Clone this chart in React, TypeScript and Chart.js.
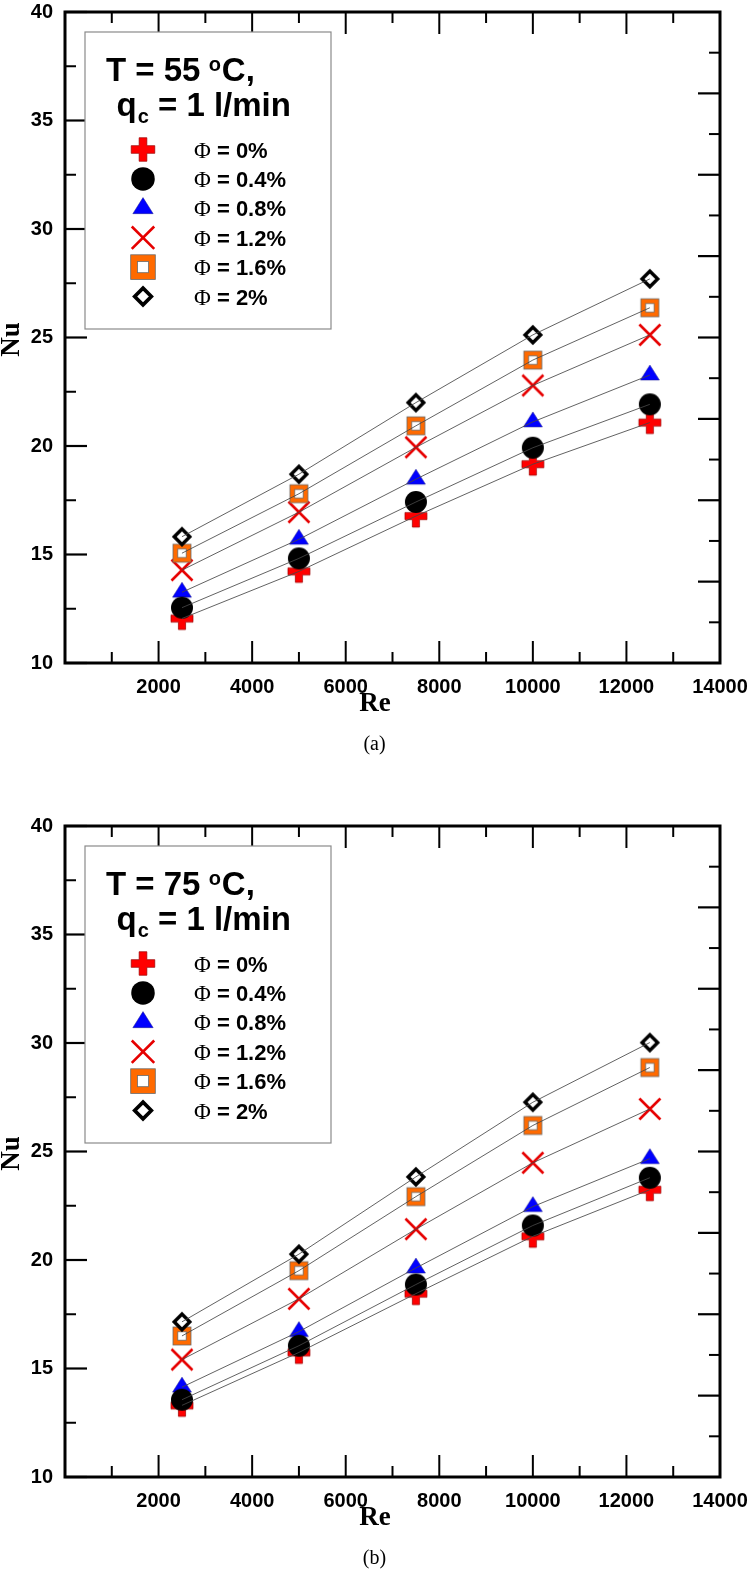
import React, { useEffect, useRef } from 'react';
import { Chart, registerables } from 'chart.js';

Chart.register(...registerables);

// ---------- data ----------
const reValues = [2500, 5000, 7500, 10000, 12500];

// (a) T = 55 °C, qc = 1 l/min
const nuA_phi0 = [12.05, 14.22, 16.77, 19.16, 21.08];
const nuA_phi04 = [12.55, 14.82, 17.42, 19.92, 21.92];
const nuA_phi08 = [13.26, 15.7, 18.47, 21.11, 23.27];
const nuA_phi12 = [14.28, 16.95, 19.94, 22.79, 25.12];
const nuA_phi16 = [15.06, 17.8, 20.93, 23.96, 26.37];
const nuA_phi20 = [15.82, 18.7, 22.0, 25.12, 27.7];

// (b) T = 75 °C, qc = 1 l/min
const nuB_phi0 = [13.3, 15.74, 18.45, 21.09, 23.24];
const nuB_phi04 = [13.56, 16.05, 18.87, 21.59, 23.79];
const nuB_phi08 = [14.14, 16.7, 19.63, 22.46, 24.67];
const nuB_phi12 = [15.41, 18.21, 21.42, 24.48, 26.96];
const nuB_phi16 = [16.5, 19.51, 22.92, 26.2, 28.87];
const nuB_phi20 = [17.15, 20.27, 23.83, 27.27, 30.02];

const phiLabels = ['0%', '0.4%', '0.8%', '1.2%', '1.6%', '2%'];
const panelTemps = ['55', '75'];
const panelCaptions = ['(a)', '(b)'];

const xTickLabels = [2000, 4000, 6000, 8000, 10000, 12000, 14000];
const xMinorTicks = [1000, 3000, 5000, 7000, 9000, 11000, 13000];
const yTickLabels = [10, 15, 20, 25, 30, 35, 40];
const yMinorTicks = [12.5, 17.5, 22.5, 27.5, 32.5, 37.5];
const rightMajorTicks = [13.75, 17.5, 21.25, 25, 28.75, 32.5, 36.25];
const rightMinorTicks = [11.875, 15.625, 19.375, 23.125, 26.875, 30.625, 34.375, 38.125];

// ---------- styling ----------
const SANS = '"Liberation Sans", Arial, Helvetica, sans-serif';
const SERIF = '"Liberation Serif", "Times New Roman", Times, serif';
const markerKinds = ['plus', 'circle', 'triangle', 'cross', 'square', 'diamond'];
const markerOrder = [7, 5, 6, 4, 3, 2];

function drawMarker(ctx: CanvasRenderingContext2D, kind: string, x: number, y: number, s: number, legend: boolean) {
  ctx.save();
  ctx.lineJoin = 'miter';
  switch (kind) {
    case 'plus': {
      const h = 11 * s, t = 3.6 * s;
      ctx.beginPath();
      ctx.moveTo(x - t, y - h); ctx.lineTo(x + t, y - h); ctx.lineTo(x + t, y - t);
      ctx.lineTo(x + h, y - t); ctx.lineTo(x + h, y + t); ctx.lineTo(x + t, y + t);
      ctx.lineTo(x + t, y + h); ctx.lineTo(x - t, y + h); ctx.lineTo(x - t, y + t);
      ctx.lineTo(x - h, y + t); ctx.lineTo(x - h, y - t); ctx.lineTo(x - t, y - t);
      ctx.closePath();
      ctx.fillStyle = '#ff0000'; ctx.fill();
      ctx.strokeStyle = '#9a0000'; ctx.lineWidth = 0.7; ctx.stroke();
      break;
    }
    case 'circle': {
      ctx.beginPath(); ctx.arc(x, y, 11 * s, 0, Math.PI * 2);
      ctx.fillStyle = '#000'; ctx.fill();
      break;
    }
    case 'triangle': {
      ctx.beginPath();
      ctx.moveTo(x, y - 10 * s); ctx.lineTo(x + 9.5 * s, y + 5 * s); ctx.lineTo(x - 9.5 * s, y + 5 * s);
      ctx.closePath();
      ctx.fillStyle = '#0000ff'; ctx.fill();
      ctx.strokeStyle = '#1a1a8a'; ctx.lineWidth = 0.5; ctx.stroke();
      break;
    }
    case 'cross': {
      const h = 10.5 * s;
      ctx.beginPath();
      ctx.moveTo(x - h, y - h); ctx.lineTo(x + h, y + h);
      ctx.moveTo(x + h, y - h); ctx.lineTo(x - h, y + h);
      ctx.strokeStyle = '#e60000'; ctx.lineWidth = 2.6; ctx.stroke();
      break;
    }
    case 'square': {
      const o = legend ? 12.3 : 9, i = legend ? 5.6 : 4.2;
      ctx.fillStyle = '#ff6a00'; ctx.fillRect(x - o, y - o, 2 * o, 2 * o);
      ctx.strokeStyle = '#6a6a6a'; ctx.lineWidth = 0.8; ctx.strokeRect(x - o, y - o, 2 * o, 2 * o);
      ctx.fillStyle = '#fff'; ctx.fillRect(x - i, y - i, 2 * i, 2 * i);
      ctx.strokeRect(x - i, y - i, 2 * i, 2 * i);
      break;
    }
    case 'diamond': {
      const h = 7.8 * s;
      ctx.beginPath();
      ctx.moveTo(x, y - h); ctx.lineTo(x + h, y); ctx.lineTo(x, y + h); ctx.lineTo(x - h, y);
      ctx.closePath();
      ctx.fillStyle = '#fff'; ctx.fill();
      ctx.strokeStyle = '#000'; ctx.lineWidth = 3.4 * s; ctx.stroke();
      break;
    }
  }
  ctx.restore();
}

function makeMarkerCanvas(kind: string): HTMLCanvasElement {
  const c = document.createElement('canvas');
  c.width = 40; c.height = 40;
  const ctx = c.getContext('2d')!;
  drawMarker(ctx, kind, 20, 20, 1, false);
  return c;
}

type Panel = {
  index: number;
  series: number[][];
  canvasTop: number;
  plotTop: number;
  plotBottom: number;
  captionY: number;
};

const CANVAS_W = 749;
const CANVAS_H = 760;

const panels: Panel[] = [
  { index: 0, series: [nuA_phi0, nuA_phi04, nuA_phi08, nuA_phi12, nuA_phi16, nuA_phi20], canvasTop: 0, plotTop: 7, plotBottom: 663, captionY: 743 },
  { index: 1, series: [nuB_phi0, nuB_phi04, nuB_phi08, nuB_phi12, nuB_phi16, nuB_phi20], canvasTop: 814, plotTop: 8, plotBottom: 663, captionY: 1557 },
];

function decorPlugin(panel: Panel) {
  return {
    id: 'decor' + panel.index,
    afterDraw(chart: any) {
      const ctx: CanvasRenderingContext2D = chart.ctx;
      const xs = chart.scales.x;
      const ys = chart.scales.y;
      const { left, right, top, bottom } = chart.chartArea;
      ctx.save();
      ctx.strokeStyle = '#000';
      ctx.lineCap = 'butt';
      const seg = (x1: number, y1: number, x2: number, y2: number, w: number) => {
        ctx.lineWidth = w;
        ctx.beginPath(); ctx.moveTo(x1, y1); ctx.lineTo(x2, y2); ctx.stroke();
      };
      const MAJ = 22, MIN = 11;
      xTickLabels.forEach((v) => {
        const p = xs.getPixelForValue(v);
        seg(p, bottom, p, bottom - MAJ, 2); seg(p, top, p, top + MAJ, 2);
      });
      xMinorTicks.forEach((v) => {
        const p = xs.getPixelForValue(v);
        seg(p, bottom, p, bottom - MIN, 2); seg(p, top, p, top + MIN, 2);
      });
      yTickLabels.forEach((v) => {
        const p = ys.getPixelForValue(v);
        seg(left, p, left + MAJ, p, 2.2);
      });
      yMinorTicks.forEach((v) => {
        const p = ys.getPixelForValue(v);
        seg(left, p, left + MIN, p, 2);
      });
      rightMajorTicks.forEach((v) => {
        const p = ys.getPixelForValue(v);
        seg(right, p, right - MAJ, p, 2.2);
      });
      rightMinorTicks.forEach((v) => {
        const p = ys.getPixelForValue(v);
        seg(right, p, right - MIN, p, 2);
      });
      // frame
      ctx.lineWidth = 3;
      ctx.strokeRect(left, top, right - left, bottom - top);

      // axis titles
      ctx.fillStyle = '#000';
      ctx.textAlign = 'center';
      ctx.textBaseline = 'middle';
      ctx.font = `bold 27px ${SERIF}`;
      ctx.fillText('Re', 375, bottom + 41);
      ctx.save();
      ctx.translate(12, (top + bottom) / 2 + 2);
      ctx.rotate(-Math.PI / 2);
      ctx.fillText('Nu', 0, 0);
      ctx.restore();

      // legend box
      const bx = 85, by = 32, bw = 246, bh = 297;
      ctx.fillStyle = '#fff';
      ctx.fillRect(bx, by, bw, bh);
      ctx.strokeStyle = '#8a8a8a';
      ctx.lineWidth = 1.2;
      ctx.strokeRect(bx, by, bw, bh);

      ctx.fillStyle = '#000';
      ctx.textAlign = 'left';
      ctx.textBaseline = 'alphabetic';
      const temp = panelTemps[panel.index];
      let x = bx + 21;
      const y1 = by + 49;
      ctx.font = `bold 33px ${SANS}`;
      const t1 = `T = ${temp} `;
      ctx.fillText(t1, x, y1);
      x += ctx.measureText(t1).width - 1;
      ctx.font = `bold 20px ${SANS}`;
      ctx.fillText('o', x, y1 - 10);
      x += ctx.measureText('o').width + 1;
      ctx.font = `bold 33px ${SANS}`;
      ctx.fillText('C,', x, y1);

      x = bx + 31.5;
      const y2 = by + 84;
      ctx.fillText('q', x, y2);
      x += ctx.measureText('q').width + 1;
      ctx.font = `bold 20px ${SANS}`;
      ctx.fillText('c', x, y2 + 7);
      x += ctx.measureText('c').width;
      ctx.font = `bold 33px ${SANS}`;
      ctx.fillText(' = 1 l/min', x, y2);

      markerKinds.forEach((kind, i) => {
        const ry = by + 117.5 + i * 29.4;
        drawMarker(ctx, kind, bx + 58, ry, 1.07, true);
        ctx.fillStyle = '#000';
        ctx.font = `23px ${SERIF}`;
        ctx.fillText('Φ', bx + 109, ry + 8);
        const w = ctx.measureText('Φ').width;
        ctx.font = `bold 22px ${SANS}`;
        ctx.fillText(` = ${phiLabels[i]}`, bx + 109 + w, ry + 8);
      });
      ctx.restore();
    },
  };
}

function PanelChart({ panel }: { panel: Panel }) {
  const ref = useRef<HTMLCanvasElement>(null);
  useEffect(() => {
    const markerCanvases = markerKinds.map((k) => makeMarkerCanvas(k));
    const datasets: any[] = [];
    panel.series.forEach((vals, i) => {
      const pts = reValues.map((re, j) => ({ x: re, y: vals[j] }));
      datasets.push({
        label: 'Φ = ' + phiLabels[i],
        data: pts,
        showLine: false,
        pointStyle: markerCanvases[i],
        pointRadius: 11,
        pointHoverRadius: 11,
        order: markerOrder[i],
      });
      datasets.push({
        label: 'fit ' + phiLabels[i],
        data: pts,
        showLine: true,
        pointRadius: 0,
        pointHoverRadius: 0,
        borderColor: 'rgba(70,70,70,0.95)',
        borderWidth: 0.9,
        fill: false,
        tension: 0,
        order: 0,
      });
    });
    const xAxisH = CANVAS_H - panel.plotBottom;
    const chart = new Chart(ref.current!, {
      type: 'line',
      data: { datasets },
      options: {
        responsive: false,
        animation: false,
        devicePixelRatio: 1,
        events: [],
        layout: { padding: { left: 0, right: CANVAS_W - 720, top: panel.plotTop, bottom: 0 } },
        plugins: { legend: { display: false }, tooltip: { enabled: false }, title: { display: false } },
        scales: {
          x: {
            type: 'linear',
            position: 'bottom',
            min: 0,
            max: 14000,
            grid: { display: false, drawTicks: false },
            border: { display: false },
            afterBuildTicks: (s: any) => { s.ticks = xTickLabels.map((v) => ({ value: v })); },
            ticks: {
              autoSkip: false,
              maxRotation: 0,
              minRotation: 0,
              padding: 12,
              color: '#000',
              font: { family: SANS, size: 20, weight: 'bold' },
              callback: (v: any) => String(v),
            },
            afterFit: (s: any) => { s.height = xAxisH; s.paddingLeft = 0; s.paddingRight = 0; },
          },
          y: {
            type: 'linear',
            position: 'left',
            min: 10,
            max: 40,
            grid: { display: false, drawTicks: false },
            border: { display: false },
            afterBuildTicks: (s: any) => { s.ticks = yTickLabels.map((v) => ({ value: v })); },
            ticks: {
              padding: 12,
              color: '#000',
              font: { family: SANS, size: 20, weight: 'bold' },
              callback: (v: any) => String(v),
            },
            afterFit: (s: any) => { s.width = 65; s.paddingTop = 0; s.paddingBottom = 0; },
          },
        },
      } as any,
      plugins: [decorPlugin(panel)],
    });
    return () => chart.destroy();
  }, []);
  return (
    <canvas
      ref={ref}
      width={CANVAS_W}
      height={CANVAS_H}
      style={{ position: 'absolute', left: 0, top: panel.canvasTop, width: CANVAS_W, height: CANVAS_H, display: 'block' }}
    />
  );
}

export default function App() {
  return (
    <div style={{ position: 'absolute', left: 0, top: 0, width: 749, height: 1574, overflow: 'hidden', background: '#fff' }}>
      {panels.map((p) => (
        <PanelChart key={p.index} panel={p} />
      ))}
      {panels.map((p) => (
        <div
          key={'cap' + p.index}
          style={{
            position: 'absolute',
            left: 0,
            width: 749,
            top: p.captionY - 12,
            height: 24,
            lineHeight: '24px',
            textAlign: 'center',
            fontFamily: SERIF,
            fontSize: 20,
            color: '#000',
          }}
        >
          {panelCaptions[p.index]}
        </div>
      ))}
    </div>
  );
}
